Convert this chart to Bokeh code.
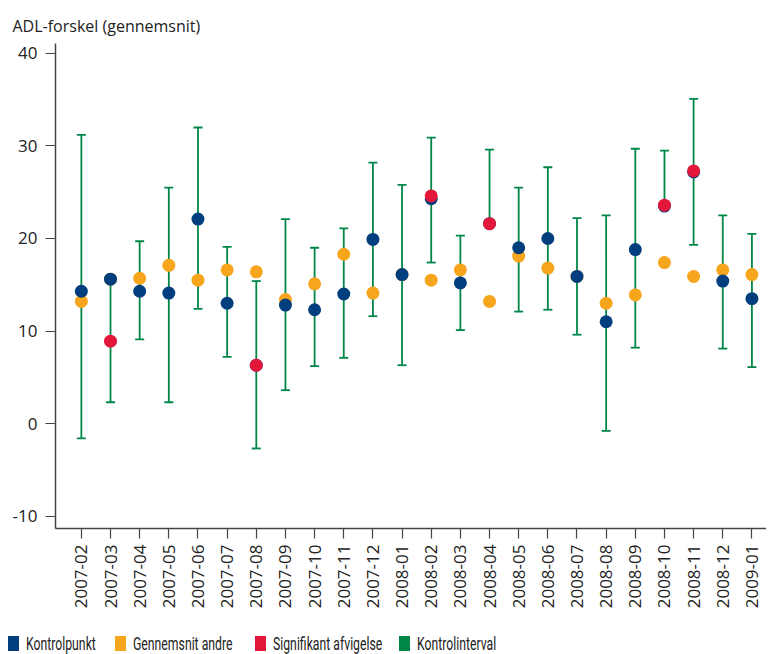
import numpy as np
from bokeh.plotting import figure
from bokeh.layouts import column
from bokeh.models import (ColumnDataSource, Whisker, TeeHead, Range1d, FixedTicker, Div)
from bokeh.embed import file_html
from bokeh.resources import INLINE

nan = float("nan")

months = ["2007-02", "2007-03", "2007-04", "2007-05", "2007-06", "2007-07", "2007-08",
          "2007-09", "2007-10", "2007-11", "2007-12", "2008-01", "2008-02", "2008-03",
          "2008-04", "2008-05", "2008-06", "2008-07", "2008-08", "2008-09", "2008-10",
          "2008-11", "2008-12", "2009-01"]

kontrolpunkt = [14.3, 15.6, 14.3, 14.1, 22.1, 13.0, 6.3, 12.8, 12.3, 14.0, 19.9, 16.1,
                24.3, 15.2, 21.6, 19.0, 20.0, 15.9, 11.0, 18.8, 23.5, 27.2, 15.4, 13.5]

gennemsnit_andre = [13.2, 15.6, 15.7, 17.1, 15.5, 16.6, 16.4, 13.4, 15.1, 18.3, 14.1, 16.1,
                    15.5, 16.6, 13.2, 18.1, 16.8, 15.9, 13.0, 13.9, 17.4, 15.9, 16.6, 16.1]

signifikant = [nan, 8.9, nan, nan, nan, nan, 6.3, nan, nan, nan, nan, nan,
               24.6, nan, 21.6, nan, nan, nan, nan, nan, 23.6, 27.3, nan, nan]

interval_upper = [31.2, 15.6, 19.7, 25.5, 32.0, 19.1, 15.4, 22.1, 19.0, 21.1, 28.2, 25.8,
                  30.9, 20.3, 29.6, 25.5, 27.7, 22.2, 22.5, 29.7, 29.5, 35.1, 22.5, 20.5]

interval_lower = [-1.6, 2.3, 9.1, 2.3, 12.4, 7.2, -2.7, 3.6, 6.2, 7.1, 11.6, 6.3,
                  17.4, 10.1, 21.6, 12.1, 12.3, 9.6, -0.8, 8.2, 23.5, 19.3, 8.1, 6.1]

y_ticks = [-10, 0, 10, 20, 30, 40]
y_tick_labels = ["-10", "0", "10", "20", "30", "40"]

legend_labels = ["Kontrolpunkt", "Gennemsnit andre", "Signifikant afvigelse", "Kontrolinterval"]

BLUE = "#003E7E"
ORANGE = "#F7A51C"
RED = "#E2173A"
GREEN = "#008748"
FONT = "Open Sans"
LEGEND_FONT = "Roboto"
legend_colors = [BLUE, ORANGE, RED, GREEN]
legend_left_px = [8, 115, 255, 399]   # styling: horizontal slot of each legend entry

idx = list(range(len(months)))
src = ColumnDataSource(dict(x=idx, kp=kontrolpunkt, ga=gennemsnit_andre, sig=signifikant,
                            up=interval_upper, lo=interval_lower))

p = figure(width=766, height=630, output_backend="svg", toolbar_location=None,
           x_range=Range1d(-0.887, 23.5), y_range=Range1d(-11.35, 41.08),
           min_border_left=55, min_border_right=0, min_border_top=43, min_border_bottom=102,
           background_fill_color="white", border_fill_color="white")
p.outline_line_color = None
p.grid.visible = False

p.title.text = "ADL-forskel (gennemsnit)"
p.title.text_font = FONT
p.title.text_font_size = "16px"
p.title.text_font_style = "normal"
p.title.text_color = "#222222"
p.title.align = "left"
p.title.offset = -43
p.title.standoff = 14

w = Whisker(source=src, base="x", upper="up", lower="lo", dimension="height",
            line_color=GREEN, line_width=1.8, level="underlay",
            upper_head=TeeHead(size=9, line_color=GREEN, line_width=1.8),
            lower_head=TeeHead(size=9, line_color=GREEN, line_width=1.8))
p.add_layout(w)

p.scatter("x", "ga", source=src, size=13, color=ORANGE, line_color=None)
p.scatter("x", "kp", source=src, size=13, color=BLUE, line_color=None)
p.scatter("x", "sig", source=src, size=13, color=RED, line_color=None)

# axes
p.yaxis.ticker = FixedTicker(ticks=y_ticks)
p.yaxis.major_label_overrides = {t: l for t, l in zip(y_ticks, y_tick_labels)}
p.xaxis.ticker = FixedTicker(ticks=idx)
p.xaxis.major_label_overrides = {i: m for i, m in enumerate(months)}
p.xaxis.major_label_orientation = np.pi / 2
for ax in (p.xaxis[0], p.yaxis[0]):
    ax.axis_line_color = "#444444"
    ax.axis_line_width = 1.5
    ax.major_tick_line_color = "#444444"
    ax.major_tick_line_width = 1.2
    ax.major_tick_out = 10
    ax.major_tick_in = 0
    ax.minor_tick_line_color = None
    ax.major_label_text_font = FONT
    ax.major_label_text_font_size = "17px"
    ax.major_label_text_color = "#222222"
p.yaxis.major_label_standoff = 8
p.xaxis.major_label_standoff = 6

# legend row (HTML, real text)
parts = []
for lab, col, lx in zip(legend_labels, legend_colors, legend_left_px):
    parts.append(
        f'<span style="position:absolute;left:{lx}px;top:6px;width:11px;height:15px;'
        f'background:{col};"></span>'
        f'<span style="position:absolute;left:{lx + 18}px;top:5px;white-space:nowrap;'
        f'font-family:{LEGEND_FONT};font-size:18px;line-height:18px;color:#222222;'
        f'transform:scaleX(0.68);transform-origin:0 0;">{lab}</span>')
legend_html = ('<div style="position:relative;width:766px;height:22px;">'
               + "".join(parts) + '</div>')
legend_div = Div(text=legend_html, width=766, height=22, margin=(0, 0, 0, 0))

layout = column(p, legend_div, spacing=0)
open("out.html", "w").write(file_html(layout, INLINE))
